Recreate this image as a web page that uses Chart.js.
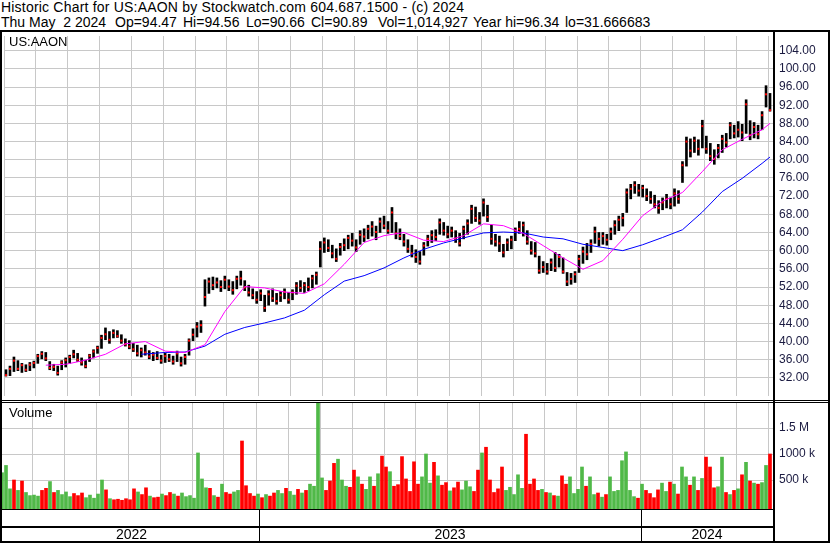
<!DOCTYPE html>
<html>
<head>
<meta charset="utf-8">
<title>US:AAON</title>
<script src="https://cdn.jsdelivr.net/npm/chart.js@4.4.1/dist/chart.umd.min.js"></script>
<style>
  html, body { margin: 0; padding: 0; background: #fff; }
  #page { position: relative; width: 830px; height: 543px; overflow: hidden; font-family: Arial, "Liberation Sans", sans-serif; color: #000; }
  .txt { position: absolute; white-space: pre; line-height: 15px; }
  .hd { font-size: 14px; }
  .lbl { font-size: 13px; color: #000; }
  .yr { position: absolute; top: 527px; font-size: 14px; line-height: 15px; text-align: center; }
  .k { position: absolute; background: #000; }
  canvas { position: absolute; left: 0; }
</style>
</head>
<body>
<div id="page">
  <div class="txt hd" style="left:1px;top:0;letter-spacing:0.2px">Historic Chart for US:AAON by Stockwatch.com 604.687.1500 - (c) 2024</div>
  <div class="txt hd" style="left:1px;top:15px">Thu May  2 2024</div>
  <div class="txt hd" style="left:115px;top:15px">Op=94.47</div>
  <div class="txt hd" style="left:183px;top:15px">Hi=94.56</div>
  <div class="txt hd" style="left:246px;top:15px">Lo=90.66</div>
  <div class="txt hd" style="left:311px;top:15px">Cl=90.89</div>
  <div class="txt hd" style="left:378px;top:15px">Vol=1,014,927</div>
  <div class="txt hd" style="left:473px;top:15px">Year hi=96.34</div>
  <div class="txt hd" style="left:565px;top:15px">lo=31.666683</div>
  <canvas id="priceChart" width="830" height="368" style="top:32px"></canvas>
  <canvas id="volChart" width="830" height="106" style="top:403px"></canvas>
  <div class="txt lbl" style="left:9px;top:34px">US:AAON</div>
  <div class="txt lbl" style="left:9px;top:405px">Volume</div>
  <div class="k" style="left:0;top:30px;width:830px;height:2px"></div>
  <div class="k" style="left:0;top:30px;width:2px;height:513px"></div>
  <div class="k" style="left:773px;top:30px;width:2px;height:513px"></div>
  <div class="k" style="left:828px;top:30px;width:2px;height:513px"></div>
  <div class="k" style="left:0;top:400px;width:830px;height:1px"></div>
  <div class="k" style="left:0;top:402px;width:830px;height:1px"></div>
  <div class="k" style="left:0;top:509px;width:775px;height:1px"></div>
  <div class="k" style="left:0;top:526px;width:775px;height:2px"></div>
  <div class="k" style="left:0;top:541px;width:830px;height:2px"></div>
  <div id="band"></div>
</div>
<script>
// one bar per ~2.6 trading days, May 2022 .. May 2 2024
const barStep = 0.125;          // months per bar
const monthSpan = 24.15625;     // months visible in the panel
const yearStarts = [0, 8, 20];  // month offsets of 2022 (partial), 2023, 2024
const years = ['2022', '2023', '2024'];

const priceTicks = [32, 36, 40, 44, 48, 52, 56, 60, 64, 68, 72, 76, 80, 84, 88, 92, 96, 100, 104];
const volTicks = [500000, 1000000, 1500000];
const volTickLabels = ['500 k', '1000 k', '1.5 M'];

const lows = [
  32.4,32.5,33.4,33.6,33.2,33.4,33.6,34.2,35.2,36.2,
  35.8,33.8,33.6,32.6,33.8,34.4,35.2,36.4,35.6,34.8,
  34.2,35.6,36.4,37.4,38.5,40.4,39.6,40.8,40.9,39.6,
  39.0,38.4,37.8,36.8,36.6,37.0,36.2,35.8,36.0,35.2,
  35.4,35.6,35.0,35.6,34.6,35.0,37.0,40.2,41.0,42.0,
  47.8,50.6,51.4,51.8,51.0,51.6,51.2,50.4,51.6,52.4,
  51.2,50.0,49.4,48.4,49.0,46.6,48.0,48.8,48.2,48.8,
  49.4,48.4,49.2,50.4,51.0,50.8,51.2,51.8,52.6,56.4,
  59.6,59.8,58.4,57.6,59.0,60.0,60.4,61.0,59.8,61.4,
  62.0,62.6,63.2,62.4,64.0,64.8,63.8,64.0,62.6,62.4,
  61.0,59.6,58.6,57.4,57.0,59.0,61.0,61.8,62.2,63.6,
  63.4,62.8,63.0,61.8,61.0,62.6,63.6,66.0,66.4,65.8,
  67.6,66.4,61.4,61.0,59.8,58.6,60.0,60.4,62.2,63.8,
  63.2,61.4,59.2,58.6,55.0,55.2,54.8,55.6,55.4,56.4,
  55.0,52.3,52.6,53.0,55.2,57.2,58.0,59.6,61.6,61.0,
  61.4,61.2,62.4,63.6,64.4,65.4,68.4,71.4,72.6,72.0,
  71.8,71.0,70.4,69.4,68.2,69.0,69.4,69.2,69.8,70.4,
  75.0,78.6,80.6,81.6,81.0,82.6,81.4,79.8,79.0,80.4,
  81.6,82.8,84.6,84.8,85.0,84.2,85.8,84.4,84.8,84.6,
  86.6,91.6,90.7
];
const highs = [
  33.8,34.6,36.6,35.8,35.2,34.9,35.4,35.7,37.2,37.8,
  37.6,35.6,35.0,34.6,35.8,36.4,37.0,38.1,37.4,36.4,
  35.9,37.2,38.2,39.0,41.4,43.0,42.2,42.6,42.4,41.5,
  40.6,40.2,39.6,39.2,38.6,39.2,38.0,37.6,37.8,37.0,
  37.4,37.2,36.8,37.9,36.6,37.2,40.6,42.8,44.2,44.6,
  53.6,54.0,54.2,54.0,53.4,54.4,53.6,53.2,54.4,55.5,
  53.4,52.4,51.6,51.0,51.4,50.2,51.2,51.6,50.6,51.0,
  51.6,50.8,51.4,53.0,53.4,53.0,54.0,54.6,55.3,62.0,
  62.8,62.4,61.2,60.4,61.6,62.6,63.4,63.8,62.4,64.4,
  64.8,65.6,66.4,65.4,67.2,67.6,66.4,69.5,66.2,64.8,
  63.6,62.4,61.2,60.2,59.8,61.8,63.4,64.4,64.6,67.0,
  66.2,65.4,65.2,64.4,63.8,65.4,66.8,70.0,69.6,68.4,
  71.4,70.0,65.6,63.6,63.2,61.4,62.6,63.2,65.0,66.4,
  66.3,64.4,62.0,61.8,58.8,57.6,57.2,58.2,59.6,59.2,
  58.4,55.2,55.0,55.4,59.0,60.8,61.6,62.4,65.2,64.0,
  64.0,63.6,65.0,66.6,67.6,68.2,73.6,74.6,75.2,74.6,
  74.4,73.6,73.0,72.2,71.0,71.6,72.4,71.6,73.6,73.2,
  79.6,85.0,84.6,85.0,84.4,88.7,85.2,83.6,82.2,83.4,
  85.4,85.8,88.2,87.6,88.4,87.8,93.2,88.6,88.2,87.6,
  90.6,96.3,94.6
];
const closes = [
  32.6,34.0,35.8,34.0,34.8,33.8,34.9,35.3,36.8,37.3,
  36.3,34.2,34.4,33.1,35.4,35.9,36.6,37.2,36.0,35.4,
  34.6,36.9,37.8,38.6,40.8,41.6,40.4,41.9,41.2,40.2,
  39.4,38.9,38.3,37.4,38.1,37.6,36.7,37.1,36.4,35.8,
  36.8,36.1,35.6,37.4,35.2,36.6,40.2,41.5,43.3,43.6,
  49.8,53.2,52.4,53.0,52.0,53.6,52.1,51.3,53.8,53.9,
  51.9,50.8,50.2,49.2,50.6,47.4,50.4,49.5,48.9,50.2,
  50.9,49.2,50.8,52.3,51.8,52.4,52.0,53.9,54.7,60.4,
  61.8,60.6,59.4,58.2,60.8,61.2,62.8,62.2,60.7,63.5,
  63.1,64.8,65.3,64.1,66.4,65.5,64.4,68.4,63.8,63.2,
  62.0,60.4,59.4,58.6,57.6,61.1,62.6,63.4,63.0,66.2,
  64.4,63.6,64.4,62.6,61.6,64.8,66.0,69.2,67.2,66.6,
  70.6,67.4,62.6,62.0,61.6,59.6,61.8,62.4,64.4,64.8,
  65.6,62.0,60.0,59.4,55.6,56.4,55.4,57.4,56.2,58.6,
  55.4,53.2,53.8,54.8,58.2,59.8,59.2,61.5,64.2,62.6,
  63.2,62.4,64.2,65.6,66.8,67.2,72.8,73.6,74.4,73.2,
  73.8,72.0,71.4,70.2,69.4,70.6,71.4,70.2,72.6,71.4,
  78.8,84.0,82.0,84.2,82.4,87.4,82.4,80.8,80.2,82.6,
  84.6,83.8,87.6,85.8,86.6,86.0,92.2,85.4,87.2,85.6,
  89.8,94.4,90.9
];
// volume in thousands of shares
const volumes = [
  640,780,330,500,300,480,260,200,210,190,
  300,340,470,260,300,220,270,180,240,200,
  250,160,210,150,230,500,310,140,120,130,
  110,140,120,330,270,220,350,190,160,170,
  230,200,260,230,190,250,180,200,150,1020,
  520,350,340,200,170,420,260,230,270,300,
  1250,390,240,190,230,160,220,190,250,300,
  240,340,280,210,320,250,300,420,380,2000,
  540,300,480,820,900,500,380,360,690,560,
  420,320,560,380,620,960,750,660,380,410,
  950,520,280,850,420,560,1000,440,840,580,
  400,450,290,350,460,310,480,370,280,690,
  1020,1130,500,260,330,750,300,360,220,600,
  340,1380,420,520,300,320,260,250,200,190,
  580,420,560,240,320,750,380,560,220,250,
  170,220,560,280,300,870,1040,300,180,150,
  420,300,240,160,310,440,280,460,420,230,
  750,560,400,560,300,530,940,750,350,370,
  940,260,220,300,330,600,840,480,440,420,
  450,780,1000
];

// moving averages (bar index -> value)
const fastMaIdx = [10,15,20,25,30,35,40,45,50,55,60,65,70,75,80,85,90,95,100,105,110,115,120,125,130,135,140,145,150,155,160,165,170,175,180,185,190,192];
const fastMaVals = [34.8,35.0,35.9,37.2,39.5,40.0,37.9,37.6,39.3,46.6,52.1,51.8,50.9,50.6,52.7,57.0,61.8,63.3,64.0,62.3,62.0,63.3,65.9,65.5,63.8,61.1,58.4,55.9,57.8,62.5,67.7,70.9,72.8,77.4,82.2,84.5,86.6,88.0];
const slowMaIdx = [34,40,45,50,55,60,65,70,75,80,85,90,95,100,105,110,115,120,125,130,135,140,145,150,155,160,165,170,175,180,185,190,192];
const slowMaVals = [37.2,37.6,37.7,39.0,41.6,43.1,44.1,45.2,46.9,50.3,53.3,54.5,56.2,58.4,60.3,61.7,62.8,63.9,64.1,63.9,63.0,62.6,61.4,60.7,60.0,61.3,62.9,64.6,68.5,73.0,75.9,79.2,80.6];

const GRID = '#c8c8c8';
const AXIS_TXT = '#1a1a40';
const UP = '#50b948', DOWN = '#ff0000', FLAT = '#a8a8a8';

const xAt = i => (i + 0.5) * barStep;

function xAxis() {
  return {
    type: 'linear', min: 0, max: monthSpan, offset: false,
    ticks: { display: false, stepSize: 1, includeBounds: false },
    grid: { color: GRID, lineWidth: 1, drawTicks: false, offset: false },
    border: { display: false },
    afterFit(s) { s.height = 0; s.paddingLeft = 0; s.paddingRight = 0; }
  };
}
function yAxis(min, max, ticks, fmt) {
  return {
    type: 'linear', position: 'right', min, max,
    afterBuildTicks(s) { s.ticks = ticks.map(v => ({ value: v })); },
    ticks: { callback: fmt, color: AXIS_TXT, font: { family: 'Arial, "Liberation Sans"', size: 12 }, padding: 6, autoSkip: false },
    grid: { color: GRID, lineWidth: 1, drawTicks: false },
    border: { display: false },
    afterFit(s) { s.width = 57; s.paddingTop = 0; s.paddingBottom = 0; }
  };
}
const common = {
  responsive: false, animation: false, devicePixelRatio: 1, events: [],
  layout: { padding: 0 },
  plugins: { legend: { display: false }, tooltip: { enabled: false } }
};

const priceChart = new Chart(document.getElementById('priceChart'), {
  type: 'bar',
  data: {
    datasets: [
      { type: 'line', data: fastMaIdx.map((k, j) => ({ x: xAt(k), y: fastMaVals[j] })),
        borderColor: '#ff00ff', borderWidth: 1, pointRadius: 0, tension: 0, order: 0 },
      { type: 'line', data: slowMaIdx.map((k, j) => ({ x: xAt(k), y: slowMaVals[j] })),
        borderColor: '#0000ff', borderWidth: 1, pointRadius: 0, tension: 0, order: 1 },
      { type: 'scatter', data: closes.map((c, i) => ({ x: xAt(i), y: c })),
        pointStyle: 'rect', pointRadius: 1.42, backgroundColor: '#ff0000', borderWidth: 0, order: 2 },
      { type: 'bar', data: closes.map((c, i) => ({ x: xAt(i), y: [lows[i], highs[i]] })),
        backgroundColor: '#000', barThickness: 2, borderWidth: 0, order: 3 }
    ]
  },
  options: Object.assign({}, common, {
    scales: { x: xAxis(), y: yAxis(28.02, 107.23, priceTicks, v => v.toFixed(2)) }
  })
});

const volChart = new Chart(document.getElementById('volChart'), {
  type: 'bar',
  data: {
    datasets: [{
      data: volumes.map((v, i) => ({ x: xAt(i), y: v * 1000 })),
      backgroundColor: closes.map((c, i) => i === 0 ? UP : (c > closes[i - 1] ? UP : (c < closes[i - 1] ? DOWN : FLAT))),
      barThickness: 3, borderWidth: 0, base: -57700
    }]
  },
  options: Object.assign({}, common, {
    scales: { x: xAxis(), y: yAxis(-57700, 1980800, volTicks, v => volTickLabels[volTicks.indexOf(v)]) }
  })
});

// date band: year dividers and labels placed with the chart's own x scale
const band = document.getElementById('band');
const xs = priceChart.scales.x;
const edges = yearStarts.map(m => Math.round(xs.getPixelForValue(m))).concat([Math.round(xs.right)]);
years.forEach((y, i) => {
  const l = edges[i], r = edges[i + 1];
  if (i > 0) {
    const d = document.createElement('div');
    d.className = 'k';
    d.style.cssText = `left:${l}px;top:510px;width:1px;height:31px`;
    band.appendChild(d);
  }
  const t = document.createElement('div');
  t.className = 'yr';
  t.style.left = l + 'px';
  t.style.width = (r - l) + 'px';
  t.textContent = y;
  band.appendChild(t);
});
</script>
</body>
</html>
